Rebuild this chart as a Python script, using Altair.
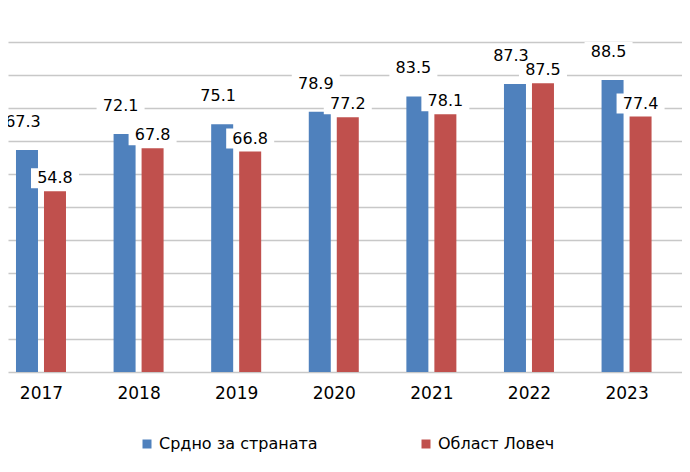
import altair as alt
import pandas as pd

# values
years = [2017, 2018, 2019, 2020, 2021, 2022, 2023]
national = [67.3, 72.1, 75.1, 78.9, 83.5, 87.3, 88.5]
lovech = [54.8, 67.8, 66.8, 77.2, 78.1, 87.5, 77.4]
series_names = ["Срдно за страната", "Област Ловеч"]
series_colors = ["#4F81BD", "#C0504D"]

FONT = "DejaVu Sans"

rows = []
for name, vals in zip(series_names, [national, lovech]):
    for y, v in zip(years, vals):
        rows.append({"year": y, "value": v, "series": name})
df = pd.DataFrame(rows)

x = alt.X(
    "year:Q",
    scale=alt.Scale(domain=[2016.662, 2023.568], nice=False, zero=False, padding=0),
    axis=alt.Axis(
        values=years, format="d", title=None, grid=False, domain=False,
        ticks=False, labelFontSize=17, labelFont=FONT, labelColor="#000000",
        labelPadding=13, labelFlush=False,
    ),
)
y = alt.Y(
    "value:Q",
    scale=alt.Scale(domain=[0, 100], nice=False),
    axis=alt.Axis(
        values=list(range(0, 101, 10)), title=None, labels=False, ticks=False,
        domain=False, grid=True, gridColor="#c8c8c8", gridWidth=1.4,
    ),
)
color = alt.Color(
    "series:N",
    scale=alt.Scale(domain=series_names, range=series_colors),
    legend=alt.Legend(
        title=None, orient="none", legendX=131, legendY=394,
        direction="horizontal", symbolType="square", symbolSize=81,
        symbolStrokeWidth=0, labelFontSize=16, labelFont=FONT,
        labelColor="#000000", labelOffset=4, columnPadding=100, padding=0,
    ),
)

base = alt.Chart(df)

# per series: bar offset from the group centre, label offsets
offsets = {
    series_names[0]: dict(bar=-14, lx=-18, ly=-28),
    series_names[1]: dict(bar=14, lx=14, ly=-13),
}

bars, boxes, labels = [], [], []
for name in series_names:
    o = offsets[name]
    part = base.transform_filter(alt.datum.series == name)
    bars.append(part.mark_bar(size=22, xOffset=o["bar"]).encode(x=x, y=y, color=color))
    boxes.append(
        part.mark_rect(width=48, height=20, color="white", xOffset=o["lx"], yOffset=o["ly"])
        .encode(x=x, y=y)
    )
    labels.append(
        part.mark_text(fontSize=16, font=FONT, color="#000000", baseline="middle",
                       xOffset=o["lx"], yOffset=o["ly"])
        .encode(x=x, y=y, text=alt.Text("value:Q", format=".1f"))
    )

chart = alt.layer(*bars, *boxes, *labels).properties(
    width=674,
    height=330,
    autosize=alt.AutoSizeParams(type="none"),
    padding={"left": 0, "right": 0, "top": 34, "bottom": 86},
).configure_view(stroke=None)

chart.save("out.html", embed_options={"renderer": "svg", "actions": False})
